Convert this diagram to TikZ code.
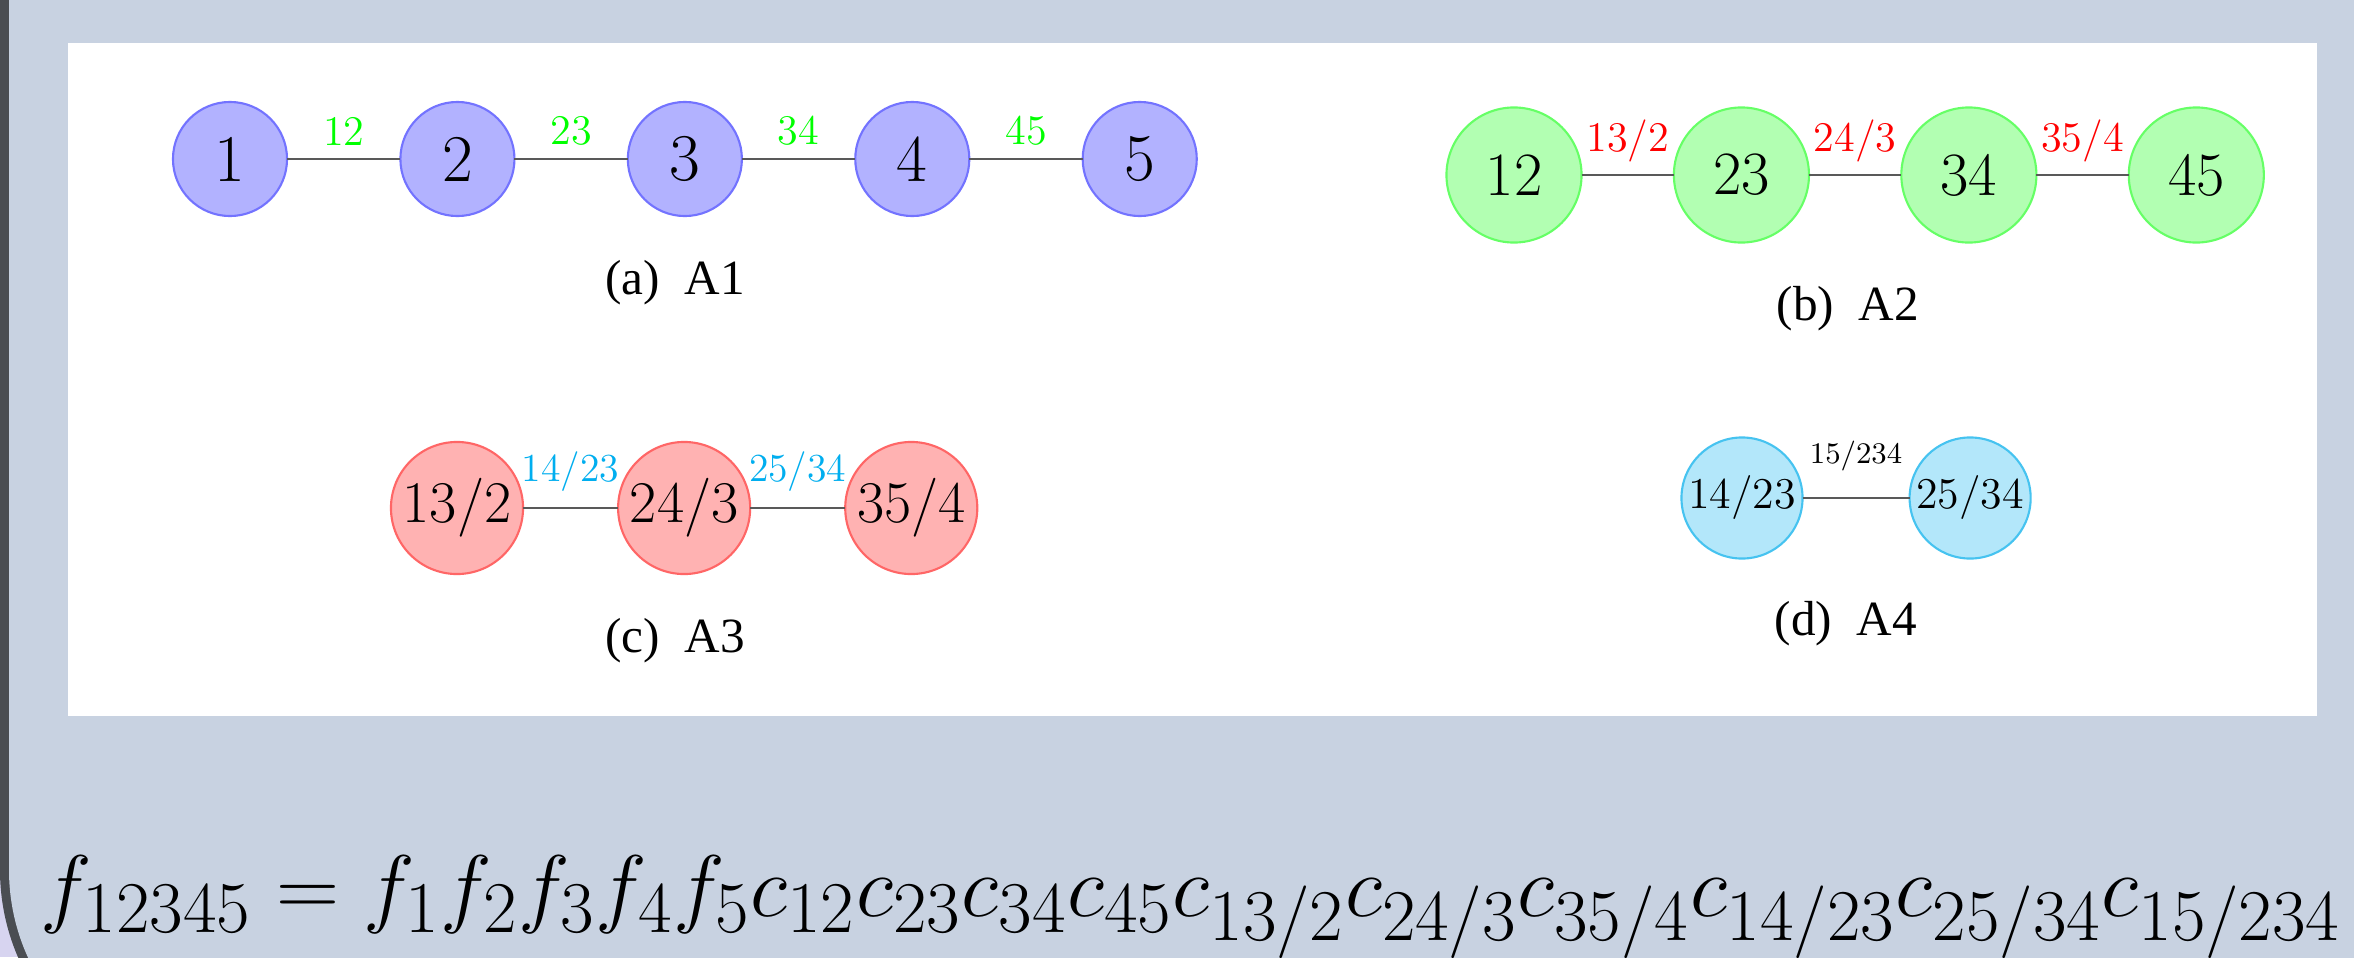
\documentclass[tikz,border=0pt]{standalone}
\usepackage{fontspec}
\newfontfamily\capfont{Liberation Serif}
\usepackage{xcolor}
\usetikzlibrary{positioning}

\definecolor{slidebg}{RGB}{200,210,225}
\definecolor{framedark}{RGB}{74,77,82}
\definecolor{cornerlav}{RGB}{215,212,240}
\definecolor{ltblue}{RGB}{179,231,250}
\definecolor{cyanline}{RGB}{70,195,240}
\definecolor{cyanlbl}{RGB}{0,174,239}

\begin{document}
\begin{tikzpicture}[x=0.01cm, y=-0.01cm, node distance=1.133cm,
    vert/.style={circle, inner sep=0pt, outer sep=0pt, line width=0.6pt},
    va/.style={vert, minimum size=1.14cm, fill=blue!30, draw=blue!55, font=\fontsize{19}{19}\selectfont},
    vb/.style={vert, minimum size=1.35cm, fill=green!30, draw=green!60, font=\fontsize{17.5}{17.5}\selectfont},
    vc/.style={vert, minimum size=1.32cm, fill=red!30, draw=red!60, font=\fontsize{16.8}{16.8}\selectfont},
    vd/.style={vert, minimum size=1.21cm, fill=ltblue, draw=cyanline, font=\fontsize{12.5}{12.5}\selectfont},
    link/.style={draw=black!65, line width=0.8pt},
    lbl/.style={font=\fontsize{12}{12}\selectfont},
    caption/.style={font=\capfont\fontsize{14}{14}\selectfont, anchor=base, inner sep=0pt}]
    % Slide background
    \useasboundingbox (0,0) rectangle (2354,957);
    \clip (0,0) rectangle (2354,957);
    \fill[cornerlav] (0,0) rectangle (2354,957);
    \fill[framedark, rounded corners=2.2cm] (0,-300) rectangle (2700,1090);
    \fill[slidebg, rounded corners=2.11cm] (9,-300) rectangle (2700,1081);
    \fill[white] (68,43) rectangle (2317,716);

    % (a) A1
    \node[va] (v1) at (230,159) {1};
    \node[va, right=of v1] (v2) {2};
    \node[va, right=of v2] (v3) {3};
    \node[va, right=of v3] (v4) {4};
    \node[va, right=of v4] (v5) {5};
    \draw[link] (v1) -- node[above, lbl, text=green] {12} (v2);
    \draw[link] (v2) -- node[above, lbl, text=green] {23} (v3);
    \draw[link] (v3) -- node[above, lbl, text=green] {34} (v4);
    \draw[link] (v4) -- node[above, lbl, text=green] {45} (v5);
    \node[caption] (capa) at (675,294) {(a)~~A1};

    % (b) A2
    \node[vb] (e12) at (1514,175) {12};
    \node[vb, right=0.923cm of e12] (e23) {23};
    \node[vb, right=0.923cm of e23] (e34) {34};
    \node[vb, right=0.923cm of e34] (e45) {45};
    \draw[link] (e12) -- node[above, lbl, text=red] {13/2} (e23);
    \draw[link] (e23) -- node[above, lbl, text=red] {24/3} (e34);
    \draw[link] (e34) -- node[above, lbl, text=red] {35/4} (e45);
    \node[caption] (capb) at (1848,320) {(b)~~A2};

    % (c) A3
    \node[vc] (t132) at (457,508) {13/2};
    \node[vc, right=0.95cm of t132] (t243) {24/3};
    \node[vc, right=0.95cm of t243] (t354) {35/4};
    \draw[link] (t132) -- node[above=1pt, lbl, text=cyanlbl, font=\fontsize{11.3}{11.3}\selectfont] {14/23} (t243);
    \draw[link] (t243) -- node[above=1pt, lbl, text=cyanlbl, font=\fontsize{11.3}{11.3}\selectfont] {25/34} (t354);
    \node[caption] (capc) at (675,652) {(c)~~A3};

    % (d) A4
    \node[vd] (q1423) at (1742,498) {14/23};
    \node[vd, right=1.07cm of q1423] (q2534) {25/34};
    \draw[link] (q1423) -- node[above=4pt, font=\fontsize{8.5}{8.5}\selectfont] {15/234} (q2534);
    \node[caption] (capd) at (1846,635) {(d)~~A4};

    % Product formula
    \node[anchor=base west, inner sep=0pt, font=\fontsize{24.88}{30}\selectfont] (prod) at (40,916)
        {$f_{12345}=f_1f_2f_3f_4f_5c_{12}c_{23}c_{34}c_{45}c_{13/2}c_{24/3}c_{35/4}c_{14/23}c_{25/34}c_{15/234}$};
\end{tikzpicture}
\end{document}
